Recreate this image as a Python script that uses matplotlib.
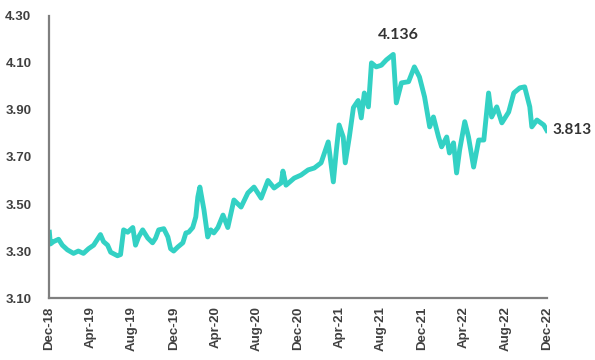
import matplotlib
matplotlib.use("Agg")
import matplotlib.pyplot as plt
import matplotlib.dates as mdates
import pandas as pd

# values
dates = [
    "2018-12-01", "2018-12-04", "2018-12-13", "2018-12-28", "2019-01-08",
    "2019-01-23", "2019-02-10", "2019-02-24", "2019-03-11", "2019-03-26",
    "2019-04-10", "2019-04-30", "2019-05-09", "2019-05-21", "2019-05-30",
    "2019-06-19", "2019-06-28", "2019-07-07", "2019-07-19", "2019-08-03",
    "2019-08-11", "2019-08-20", "2019-09-01", "2019-09-16", "2019-09-30",
    "2019-10-09", "2019-10-18", "2019-11-02", "2019-11-14", "2019-11-22",
    "2019-12-01", "2019-12-13", "2019-12-28", "2020-01-06", "2020-01-14",
    "2020-01-26", "2020-02-04", "2020-02-10", "2020-02-16", "2020-02-28",
    "2020-03-10", "2020-03-19", "2020-03-28", "2020-04-09", "2020-04-24",
    "2020-05-08", "2020-05-26", "2020-06-16", "2020-07-06", "2020-07-24",
    "2020-08-14", "2020-09-03", "2020-09-21", "2020-10-12", "2020-10-17",
    "2020-10-26", "2020-11-19", "2020-12-09", "2020-12-30", "2021-01-17",
    "2021-02-06", "2021-02-27", "2021-03-14", "2021-03-23", "2021-03-31",
    "2021-04-12", "2021-04-18", "2021-04-30", "2021-05-12", "2021-05-26",
    "2021-06-04", "2021-06-13", "2021-06-25", "2021-07-04", "2021-07-18",
    "2021-08-02", "2021-08-17", "2021-09-06", "2021-09-15", "2021-09-30",
    "2021-10-21", "2021-11-07", "2021-11-22", "2021-12-07", "2021-12-22",
    "2022-01-02", "2022-01-17", "2022-01-26", "2022-02-10", "2022-02-18",
    "2022-03-02", "2022-03-11", "2022-03-20", "2022-04-04", "2022-04-15",
    "2022-04-30", "2022-05-15", "2022-05-30", "2022-06-13", "2022-06-22",
    "2022-07-07", "2022-07-22", "2022-08-11", "2022-08-26", "2022-09-13",
    "2022-09-27", "2022-10-12", "2022-10-18", "2022-11-02", "2022-11-22",
    "2022-12-01",
]
values = [
    3.38, 3.33, 3.34, 3.35, 3.325,
    3.305, 3.29, 3.30, 3.29, 3.31,
    3.325, 3.37, 3.34, 3.325, 3.295,
    3.28, 3.285, 3.39, 3.38, 3.40,
    3.325, 3.36, 3.39, 3.355, 3.335,
    3.355, 3.39, 3.395, 3.36, 3.31,
    3.30, 3.317, 3.335, 3.377, 3.38,
    3.40, 3.445, 3.53, 3.572, 3.475,
    3.36, 3.39, 3.377, 3.40, 3.453,
    3.40, 3.517, 3.487, 3.547, 3.572,
    3.525, 3.60, 3.568, 3.59, 3.64,
    3.58, 3.61, 3.623, 3.645, 3.653,
    3.675, 3.764, 3.594, 3.73, 3.836,
    3.785, 3.675, 3.785, 3.91, 3.94,
    3.866, 3.972, 3.913, 4.10, 4.083,
    4.09, 4.113, 4.136, 3.93, 4.015,
    4.02, 4.083, 4.04, 3.955, 3.828,
    3.87, 3.785, 3.743, 3.785, 3.717,
    3.76, 3.632, 3.73, 3.85, 3.785,
    3.657, 3.772, 3.772, 3.972, 3.87,
    3.913, 3.845, 3.891, 3.972, 3.994,
    3.998, 3.913, 3.828, 3.857, 3.836,
    3.813,
]
tick_dates = pd.date_range("2018-12-01", "2022-12-01", freq="4MS")
y_ticks = [3.10, 3.30, 3.50, 3.70, 3.90, 4.10, 4.30]

x = pd.to_datetime(dates)

fig = plt.figure(figsize=(5.95, 3.60), dpi=100)
ax = fig.add_axes([0.083, 0.172, 0.836, 0.784])

ax.plot(x, values, color="#33D1C4", linewidth=3.5, solid_joinstyle="round")

ax.set_xlim(pd.Timestamp("2018-12-01"), pd.Timestamp("2022-12-01"))
ax.set_ylim(3.10, 4.30)
ax.set_yticks(y_ticks)
ax.set_yticklabels([f"{v:.2f}" for v in y_ticks])
ax.set_xticks(tick_dates)
ax.xaxis.set_major_formatter(mdates.DateFormatter("%b-%y"))

for lbl in ax.get_xticklabels():
    lbl.set_rotation(90)
for lbl in ax.get_xticklabels() + ax.get_yticklabels():
    lbl.set_fontfamily("Liberation Sans")
    lbl.set_fontweight("bold")
    lbl.set_fontsize(9.5)
    lbl.set_color("#404040")

ax.tick_params(axis="both", length=0)
ax.tick_params(axis="y", pad=13)
ax.tick_params(axis="x", pad=6)

for side in ["top", "right"]:
    ax.spines[side].set_visible(False)
for side in ["left", "bottom"]:
    ax.spines[side].set_color("#7f7f7f")
    ax.spines[side].set_linewidth(1.6)

# peak and last value labels
peak_i = values.index(max(values))
ax.annotate(f"{values[peak_i]:.3f}", (x[peak_i], values[peak_i]),
            xytext=(4, 11), textcoords="offset points", ha="center",
            fontsize=11.5, fontweight="bold", color="#333333", family="Lato")
ax.annotate(f"{values[-1]:.3f}", (x[-1], values[-1]),
            xytext=(4, 0), textcoords="offset points", ha="left", va="center",
            fontsize=11, fontweight="bold", color="#333333", family="Lato",
            annotation_clip=False)

fig.savefig("out.png", dpi=100)
